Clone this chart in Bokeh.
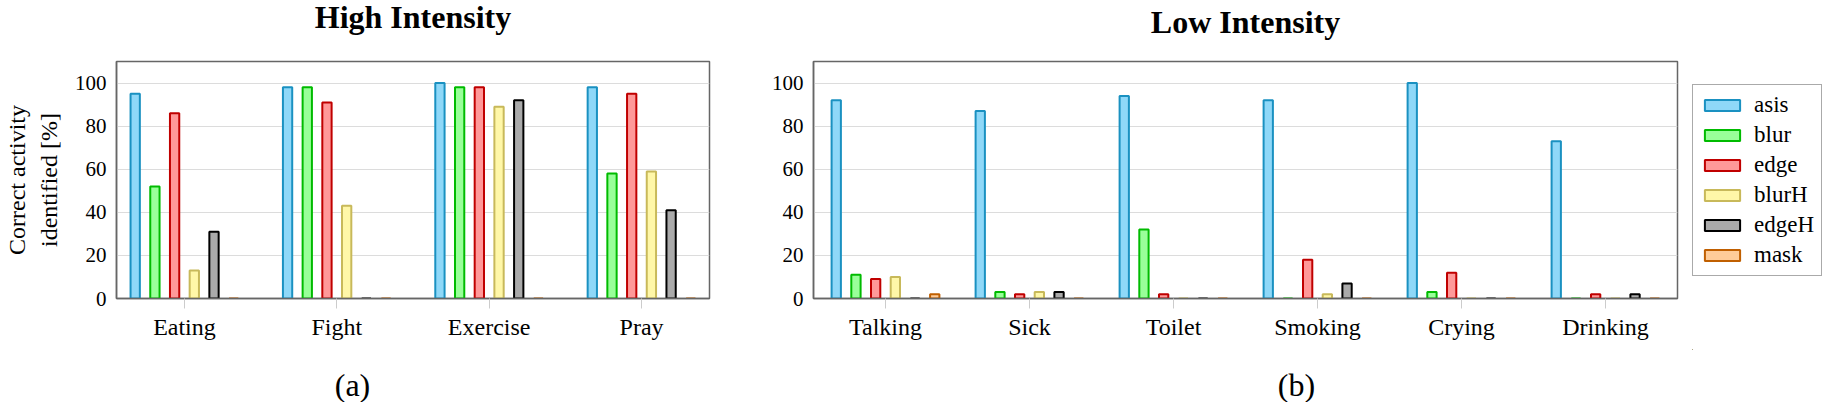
from bokeh.plotting import figure
from bokeh.models import (Range1d, FixedTicker, Legend, LegendItem, Label,
                          ColumnDataSource, Spacer)
from bokeh.layouts import row, column
from bokeh.embed import file_html
from bokeh.resources import INLINE

# ---------------- data ----------------
series = ["asis", "blur", "edge", "blurH", "edgeH", "mask"]

high_categories = ["Eating", "Fight", "Exercise", "Pray"]
high_asis = [95, 98, 100, 98]
high_blur = [52, 98, 98, 58]
high_edge = [86, 91, 98, 95]
high_blurH = [13, 43, 89, 59]
high_edgeH = [31, 0, 92, 41]
high_mask = [0, 0, 0, 0]

low_categories = ["Talking", "Sick", "Toilet", "Smoking", "Crying", "Drinking"]
low_asis = [92, 87, 94, 92, 100, 73]
low_blur = [11, 3, 32, 0, 3, 0]
low_edge = [9, 2, 2, 18, 12, 2]
low_blurH = [10, 3, 0, 2, 0, 0]
low_edgeH = [0, 3, 0, 7, 0, 2]
low_mask = [2, 0, 0, 0, 0, 0]

y_ticks = [0, 20, 40, 60, 80, 100]

# ---------------- style ----------------
FONT = "Liberation Serif"
fills = ["#8fd8f8", "#99ff99", "#ff9999", "#fff7a8", "#aaaaaa", "#ffcc99"]
lines = ["#1a91c1", "#00bb00", "#c00000", "#c8b95a", "#000000", "#c05f00"]
BAR_PITCH_PX = 19.7
BAR_WIDTH_PX = 9.3

# geometry (pixels)
A_LEFT, A_FRAME_W, A_RIGHT = 116, 593, 51
B_LEFT, B_FRAME_W, B_RIGHT = 53, 864, 15
LEG_W = 130
W_A = A_LEFT + A_FRAME_W + A_RIGHT            # 760
W_B = B_LEFT + B_FRAME_W + B_RIGHT            # 932
H_HEAD, H_MAIN, H_CAP = 50, 300, 52
MAIN_BOTTOM = 52
LEG_TOP = 34


def blank(width, height):
    f = figure(width=width, height=height, x_range=Range1d(0, width),
               y_range=Range1d(0, height), output_backend="svg",
               toolbar_location=None, min_border=0,
               x_axis_location=None, y_axis_location=None)
    f.grid.visible = False
    f.outline_line_color = None
    f.border_fill_color = "white"
    f.background_fill_color = "white"
    return f


def text_strip(width, height, text, x_px, baseline_from_bottom, size, style="normal"):
    f = blank(width, height)
    f.add_layout(Label(x=x_px, y=baseline_from_bottom, text=text,
                       text_align="center", text_baseline="alphabetic",
                       text_font=FONT, text_font_size=size,
                       text_font_style=style, text_color="#000000"))
    return f


def make_panel(cats, values, x_start, x_end, width, height,
               b_left, b_right, b_top, b_bottom, ylabel=None):
    p = figure(width=width, height=height,
               x_range=Range1d(x_start, x_end), y_range=Range1d(0, 110),
               output_backend="svg", toolbar_location=None,
               min_border_left=b_left, min_border_right=b_right,
               min_border_top=b_top, min_border_bottom=b_bottom)
    frame_w = width - b_left - b_right
    ppu = frame_w / (x_end - x_start)
    dx = BAR_PITCH_PX / ppu
    bw = BAR_WIDTH_PX / ppu

    n = len(cats)
    for j, name in enumerate(series):
        xs = [i + (j - 2.5) * dx for i in range(n)]
        src = ColumnDataSource(dict(x=xs, top=values[j]))
        p.vbar(x="x", top="top", bottom=0, width=bw, source=src,
               fill_color=fills[j], line_color=lines[j], line_width=2)

    p.xaxis.ticker = FixedTicker(ticks=list(range(n)))
    p.xaxis.major_label_overrides = {i: c for i, c in enumerate(cats)}
    p.xaxis.major_tick_line_color = "#cccccc"
    p.xaxis.major_tick_out = 10
    p.xaxis.major_tick_in = 0
    p.xaxis.minor_tick_line_color = None
    p.xaxis.major_label_standoff = 5
    p.xaxis.major_label_text_font_size = "24px"

    p.yaxis.ticker = FixedTicker(ticks=y_ticks)
    p.yaxis.major_tick_line_color = None
    p.yaxis.major_tick_out = 0
    p.yaxis.major_tick_in = 0
    p.yaxis.minor_tick_line_color = None
    p.yaxis.major_label_standoff = 10
    p.yaxis.major_label_text_font_size = "21px"

    for ax in (p.xaxis, p.yaxis):
        ax.major_label_text_font = FONT
        ax.major_label_text_color = "#000000"
        ax.axis_line_color = "#666666"
        ax.axis_line_width = 1.5

    if ylabel:
        p.yaxis.axis_label = ylabel
        p.yaxis.axis_label_text_font = FONT
        p.yaxis.axis_label_text_font_size = "24px"
        p.yaxis.axis_label_text_font_style = "normal"
        p.yaxis.axis_label_text_color = "#000000"
        p.yaxis.axis_label_text_line_height = 1.25
        p.yaxis.axis_label_standoff = 10

    p.xgrid.visible = False
    p.ygrid.grid_line_color = "#dcdcdc"
    p.ygrid.grid_line_width = 1

    p.outline_line_color = "#666666"
    p.outline_line_width = 1.5
    p.outline_line_alpha = 1.0
    p.background_fill_color = "white"
    p.border_fill_color = "white"
    return p


high_values = [high_asis, high_blur, high_edge, high_blurH, high_edgeH, high_mask]
low_values = [low_asis, low_blur, low_edge, low_blurH, low_edgeH, low_mask]

fig_a = make_panel(high_categories, high_values, -0.446, 3.446,
                   W_A, H_MAIN, A_LEFT, A_RIGHT, 7, MAIN_BOTTOM,
                   ylabel="Correct activity\nidentified [%]")
fig_b = make_panel(low_categories, low_values, -0.5, 5.5,
                   W_B, H_MAIN, B_LEFT, B_RIGHT, 11, MAIN_BOTTOM)

# legend panel: proxy glyphs with the same styles as the bars (outside view)
leg_fig = blank(LEG_W, H_MAIN - LEG_TOP)
items = []
for j, name in enumerate(series):
    r = leg_fig.vbar(x=[-1000], top=[0], bottom=0, width=0.1,
                     fill_color=fills[j], line_color=lines[j], line_width=2)
    items.append(LegendItem(label=name, renderers=[r]))
legend = Legend(items=items, location="top_left")
legend.label_text_font = FONT
legend.label_text_font_size = "23px"
legend.label_text_color = "#000000"
legend.glyph_width = 44
legend.glyph_height = 14
legend.label_height = 26
legend.label_standoff = 10
legend.spacing = 4
legend.padding = 7
legend.margin = 0
legend.border_line_color = "#555555"
legend.border_line_width = 1.3
legend.background_fill_color = "white"
legend.background_fill_alpha = 1.0
leg_fig.add_layout(legend)
leg_col = column(Spacer(width=LEG_W, height=LEG_TOP), leg_fig)

# titles (centred over each plot frame) and sub-captions
head_a = text_strip(W_A, H_HEAD, "High Intensity", A_LEFT + A_FRAME_W / 2,
                    34, "32px", "bold")
head_b = text_strip(W_B + LEG_W, H_HEAD, "Low Intensity", B_LEFT + B_FRAME_W / 2,
                    29, "32px", "bold")
cap_a = text_strip(W_A, H_CAP, "(a)", 352, 18, "32px")
cap_b = text_strip(W_B + LEG_W, H_CAP, "(b)", 1296 - W_A, 18, "32px")

p = column(row(head_a, head_b), row(fig_a, fig_b, leg_col), row(cap_a, cap_b))

open("out.html", "w").write(file_html(p, INLINE))
